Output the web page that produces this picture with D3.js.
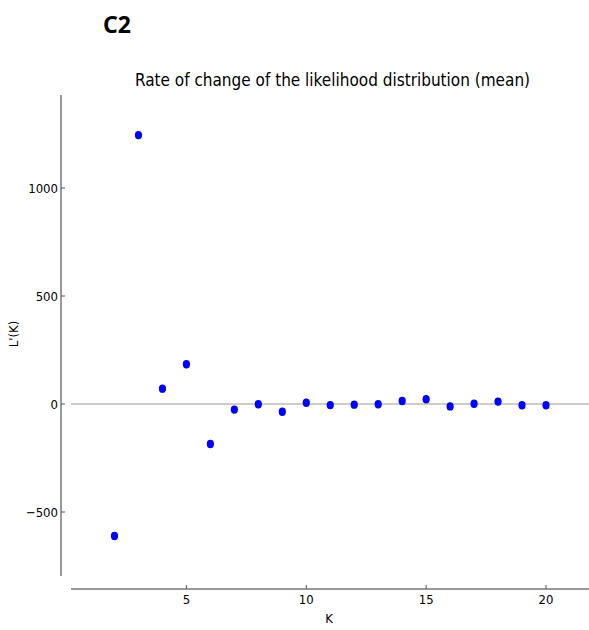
<!DOCTYPE html>
<html>
<head>
<meta charset="utf-8">
<script src="https://cdn.jsdelivr.net/npm/d3@7"></script>
<style>
  body { margin: 0; background: #fff; }
  svg text { font-family: "DejaVu Sans", sans-serif; font-stretch: condensed; fill: #000; }
</style>
</head>
<body>
<svg id="chart" width="589" height="630"></svg>
<script>
// data
const kValues = [2, 3, 4, 5, 6, 7, 8, 9, 10, 11, 12, 13, 14, 15, 16, 17, 18, 19, 20];
const rateValues = [-611, 1245, 71, 184, -185, -26, -1, -36, 6, -5, -3, -1, 14, 22, -11, 1, 11, -6, -6];
const xTicks = [5, 10, 15, 20];
const yTicks = [-500, 0, 500, 1000];

const svg = d3.select("#chart");

// scales
const xScale = d3.scaleLinear().domain([2, 20]).range([114.5, 546]);
const yScale = d3.scaleLinear().domain([0, 1000]).range([404, 188]);

const xLeft = 71, xRight = 589;
const yTop = 95, yBottom = 576;
const bottomY = 589, leftX = 61;

// zero reference line
svg.append("line")
    .attr("x1", xLeft).attr("x2", xRight)
    .attr("y1", yScale(0)).attr("y2", yScale(0))
    .attr("stroke", "#9a9a9a").attr("stroke-width", 1);

// left spine + ticks
svg.append("line")
    .attr("x1", leftX).attr("x2", leftX)
    .attr("y1", yTop).attr("y2", yBottom)
    .attr("stroke", "#555").attr("stroke-width", 1.2);

const yAxis = svg.append("g");
yAxis.selectAll("line")
    .data(yTicks)
    .join("line")
    .attr("x1", leftX).attr("x2", leftX + 4)
    .attr("y1", d => yScale(d)).attr("y2", d => yScale(d))
    .attr("stroke", "#555");
yAxis.selectAll("text")
    .data(yTicks)
    .join("text")
    .attr("x", leftX - 3)
    .attr("y", d => yScale(d))
    .attr("dy", "0.36em")
    .attr("text-anchor", "end")
    .style("font-size", "13px")
    .text(d => d < 0 ? "\u2212" + Math.abs(d) : d);

// bottom spine + ticks
svg.append("line")
    .attr("x1", xLeft).attr("x2", xRight)
    .attr("y1", bottomY).attr("y2", bottomY)
    .attr("stroke", "#777").attr("stroke-width", 1.5);

const xAxis = svg.append("g");
xAxis.selectAll("line")
    .data(xTicks)
    .join("line")
    .attr("x1", d => xScale(d)).attr("x2", d => xScale(d))
    .attr("y1", bottomY).attr("y2", bottomY - 4)
    .attr("stroke", "#555");
xAxis.selectAll("text")
    .data(xTicks)
    .join("text")
    .attr("x", d => xScale(d))
    .attr("y", 604)
    .attr("text-anchor", "middle")
    .style("font-size", "13px")
    .text(d => d);

// axis titles
svg.append("text")
    .attr("x", 329).attr("y", 623)
    .attr("text-anchor", "middle")
    .style("font-size", "13px")
    .text("K");

svg.append("text")
    .attr("transform", `translate(18, 334) rotate(-90)`)
    .attr("text-anchor", "middle")
    .style("font-size", "13px")
    .text("L'(K)");

// chart title
svg.append("text")
    .attr("x", 332.5).attr("y", 86)
    .attr("text-anchor", "middle")
    .style("font-size", "17px")
    .text("Rate of change of the likelihood distribution (mean)");

// panel label
svg.append("text")
    .attr("x", 103).attr("y", 33)
    .style("font-family", "'Noto Sans', sans-serif")
    .style("font-stretch", "normal")
    .style("font-weight", "bold")
    .style("font-size", "23px")
    .text("C2");

// points
svg.append("g")
    .selectAll("ellipse")
    .data(kValues.map((k, i) => ({ k, v: rateValues[i] })))
    .join("ellipse")
    .attr("cx", d => xScale(d.k))
    .attr("cy", d => yScale(d.v))
    .attr("rx", 3.6)
    .attr("ry", 4.2)
    .attr("fill", "#0000ff");
</script>
</body>
</html>
